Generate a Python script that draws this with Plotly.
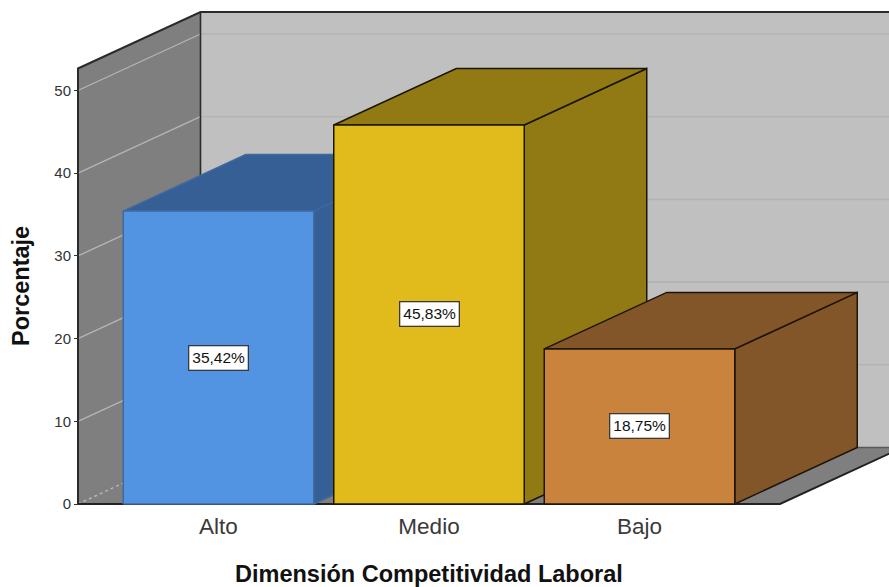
import plotly.graph_objects as go

# Chart data
categories = ["Alto", "Medio", "Bajo"]
percentages = [35.42, 45.83, 18.75]
y_ticks = [0, 10, 20, 30, 40, 50]

# Colours per bar: front, shaded faces, outline
front_colors = ["#5294E2", "#E1BB1C", "#C9833D"]
shade_colors = ["#355F95", "#917A13", "#835629"]
edge_colors = ["#3F6A9E", "#1A1600", "#1F1408"]

# Oblique projection and plot geometry, in axis units
WIDTH, HEIGHT = 889, 587
X_PX_ORIGIN, X_PX_STEP = 218.5, 210.5
Y_PX_ZERO, Y_PX_UNIT = 504, 8.27
DEPTH_X = 122.5 / X_PX_STEP
DEPTH_Y = 56.5 / Y_PX_UNIT
WALL_TOP = 52.66
BAR_WIDTH = 190.5 / X_PX_STEP
FLOOR_LEFT = 1 - (X_PX_ORIGIN - 78) / X_PX_STEP
FLOOR_RIGHT = 1 + (780 - X_PX_ORIGIN) / X_PX_STEP

x_range = [1 - X_PX_ORIGIN / X_PX_STEP, 1 + (WIDTH - X_PX_ORIGIN) / X_PX_STEP]
y_range = [-(HEIGHT - Y_PX_ZERO) / Y_PX_UNIT, Y_PX_ZERO / Y_PX_UNIT]

fig = go.Figure()


def polygon(xs, ys, fill, line=None, width=1.0):
    fig.add_trace(go.Scatter(
        x=xs + xs[:1], y=ys + ys[:1], mode="lines", fill="toself",
        fillcolor=fill, line=dict(color=line or fill, width=width),
        hoverinfo="skip", showlegend=False,
    ))


def segment(xs, ys, color, width=1.0, dash="solid"):
    fig.add_trace(go.Scatter(
        x=xs, y=ys, mode="lines", line=dict(color=color, width=width, dash=dash),
        hoverinfo="skip", showlegend=False,
    ))


# Walls and floor
back_left = FLOOR_LEFT + DEPTH_X
back_right = FLOOR_RIGHT + DEPTH_X
polygon([back_left, back_right, back_right, back_left],
        [DEPTH_Y, DEPTH_Y, WALL_TOP + DEPTH_Y, WALL_TOP + DEPTH_Y], "#C0C0C0")
polygon([FLOOR_LEFT, back_left, back_left, FLOOR_LEFT],
        [0, DEPTH_Y, WALL_TOP + DEPTH_Y, WALL_TOP], "#7F7F7F")
polygon([FLOOR_LEFT, FLOOR_RIGHT, back_right, back_left],
        [0, 0, DEPTH_Y, DEPTH_Y], "#7F7F7F")

# Gridlines across both walls
for tick in y_ticks:
    if tick == 0:
        segment([FLOOR_LEFT, back_left], [0, DEPTH_Y], "#B5B5B5", 1.5, "dot")
    else:
        segment([FLOOR_LEFT, back_left], [tick, tick + DEPTH_Y], "#B5B5B5", 1.3)
        segment([back_left, back_right], [tick + DEPTH_Y] * 2, "#B3B3B3", 1.6)

# Wall and floor edges
segment([FLOOR_LEFT, FLOOR_LEFT, back_left, back_right],
        [0, WALL_TOP, WALL_TOP + DEPTH_Y, WALL_TOP + DEPTH_Y], "#2B2B2B", 2)
segment([back_left, back_left], [DEPTH_Y, WALL_TOP + DEPTH_Y], "#2B2B2B", 1.6)
segment([back_left, back_right], [DEPTH_Y, DEPTH_Y], "#5A5A5A", 1.6)
segment([FLOOR_LEFT, FLOOR_RIGHT, back_right], [0, 0, DEPTH_Y], "#222222", 2)

# Bars, each with front, top and right faces
for i, value in enumerate(percentages):
    left = i + 1 - BAR_WIDTH / 2
    right = i + 1 + BAR_WIDTH / 2
    edge = edge_colors[i]
    polygon([right, right + DEPTH_X, right + DEPTH_X, right],
            [0, DEPTH_Y, value + DEPTH_Y, value], shade_colors[i], edge, 1.5)
    polygon([left, right, right + DEPTH_X, left + DEPTH_X],
            [value, value, value + DEPTH_Y, value + DEPTH_Y], shade_colors[i], edge, 1.5)
    polygon([left, right, right, left], [0, 0, value, value], front_colors[i], edge, 1.5)

# Percentage labels in the middle of each front face
annotations = [
    dict(x=i + 1, y=value / 2, xref="x", yref="y",
         text=f"{value:.2f}".replace(".", ",") + "%", showarrow=False,
         font=dict(family="Liberation Sans", size=15.5, color="#111111"),
         bgcolor="#FFFFFF", bordercolor="#3A3A3A", borderwidth=1.3, borderpad=3)
    for i, value in enumerate(percentages)
]

# Axis titles
annotations += [
    dict(x=428.5 / WIDTH, y=1 - 574 / HEIGHT, xref="paper", yref="paper",
         xanchor="center", yanchor="middle",
         text="<b>Dimensión Competitividad Laboral</b>", showarrow=False,
         font=dict(family="Liberation Sans", size=23.5, color="#111111")),
    dict(x=21 / WIDTH, y=1 - 286 / HEIGHT, xref="paper", yref="paper",
         xanchor="center", yanchor="middle",
         text="<b>Porcentaje</b>", showarrow=False, textangle=-90,
         font=dict(family="Liberation Sans", size=23.5, color="#111111")),
]

fig.update_layout(
    width=WIDTH, height=HEIGHT, autosize=False,
    margin=dict(l=0, r=0, t=0, b=0),
    paper_bgcolor="#FFFFFF", plot_bgcolor="#FFFFFF",
    showlegend=False, annotations=annotations,
    xaxis=dict(
        range=x_range, domain=[0, 1], anchor="free", position=(HEIGHT - Y_PX_ZERO) / HEIGHT,
        tickmode="array", tickvals=[1, 2, 3], ticktext=categories,
        ticks="outside", ticklen=2, tickcolor="rgba(0,0,0,0)",
        showgrid=False, zeroline=False, showline=False,
        tickfont=dict(family="Liberation Sans", size=22.5, color="#3A3A3A"),
    ),
    yaxis=dict(
        range=y_range, domain=[0, 1], anchor="free", position=78 / WIDTH,
        tickmode="array", tickvals=y_ticks, ticks="outside", ticklen=4,
        tickcolor="#333333", tickwidth=1,
        showgrid=False, zeroline=False, showline=False,
        tickfont=dict(family="Liberation Sans", size=15, color="#333333"),
    ),
)

fig.write_html("out.html")
